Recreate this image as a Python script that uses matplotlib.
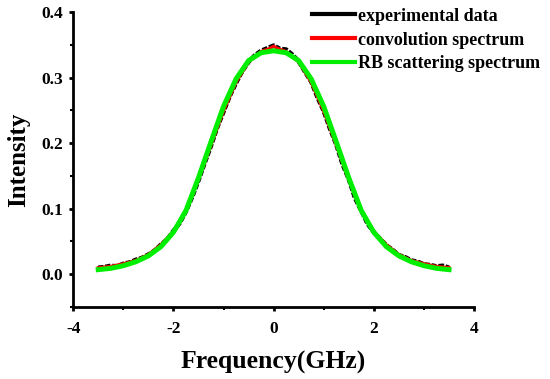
import matplotlib
matplotlib.use("Agg")
import matplotlib.pyplot as plt
from matplotlib.ticker import MultipleLocator

plt.rcParams['font.family'] = ['Liberation Serif', 'DejaVu Serif']
plt.rcParams['font.weight'] = 'bold'
plt.rcParams['axes.unicode_minus'] = False

# experimental data, 0.125 GHz step
exp_freq = [-3.5, -3.375, -3.25, -3.125, -3.0, -2.875, -2.75, -2.625, -2.5, -2.375,
            -2.25, -2.125, -2.0, -1.875, -1.75, -1.625, -1.5, -1.375, -1.25, -1.125,
            -1.0, -0.875, -0.75, -0.625, -0.5, -0.375, -0.25, -0.125, 0.0,
            0.125, 0.25, 0.375, 0.5, 0.625, 0.75, 0.875, 1.0, 1.125, 1.25,
            1.375, 1.5, 1.625, 1.75, 1.875, 2.0, 2.125, 2.25, 2.375, 2.5,
            2.625, 2.75, 2.875, 3.0, 3.125, 3.25, 3.375, 3.5]
exp_int = [0.010, 0.011, 0.013, 0.012, 0.016, 0.018, 0.022, 0.025, 0.030, 0.036,
           0.045, 0.053, 0.066, 0.078, 0.096, 0.118, 0.143, 0.170, 0.196, 0.224,
           0.248, 0.272, 0.292, 0.310, 0.324, 0.334, 0.341, 0.345, 0.349,
           0.344, 0.343, 0.335, 0.325, 0.309, 0.294, 0.270, 0.249, 0.222, 0.198,
           0.168, 0.145, 0.116, 0.097, 0.077, 0.064, 0.054, 0.044, 0.037, 0.029,
           0.026, 0.021, 0.019, 0.015, 0.014, 0.012, 0.013, 0.010]

# convolution spectrum
conv_freq = [-3.5, -3.25, -3.0, -2.75, -2.5, -2.25, -2.0, -1.75, -1.5, -1.25,
             -1.0, -0.75, -0.5, -0.25, -0.1, 0.0, 0.1, 0.25, 0.5, 0.75,
             1.0, 1.25, 1.5, 1.75, 2.0, 2.25, 2.5, 2.75, 3.0, 3.25, 3.5]
conv_int = [0.010, 0.012, 0.016, 0.021, 0.030, 0.045, 0.065, 0.096, 0.144, 0.197,
            0.249, 0.293, 0.324, 0.340, 0.344, 0.348, 0.344, 0.340, 0.324, 0.293,
            0.249, 0.197, 0.144, 0.096, 0.065, 0.045, 0.030, 0.021, 0.016, 0.012, 0.010]

# RB scattering spectrum
rb_freq = [-3.5, -3.25, -3.0, -2.75, -2.5, -2.25, -2.0, -1.75, -1.5, -1.25,
           -1.0, -0.75, -0.5, -0.25, 0.0, 0.25, 0.5, 0.75, 1.0, 1.25,
           1.5, 1.75, 2.0, 2.25, 2.5, 2.75, 3.0, 3.25, 3.5]
rb_int = [0.007, 0.009, 0.013, 0.019, 0.028, 0.042, 0.064, 0.097, 0.147, 0.202,
          0.256, 0.298, 0.326, 0.338, 0.341, 0.338, 0.326, 0.298, 0.256, 0.202,
          0.147, 0.097, 0.064, 0.042, 0.028, 0.019, 0.013, 0.009, 0.007]

fig = plt.figure(figsize=(5.5, 3.79), dpi=100)
ax = fig.add_axes([0.133, 0.19, 0.729, 0.778])

ax.plot(exp_freq, exp_int, color='black', lw=3.2, ls=(0, (1.2, 0.4)),
        label='experimental data')
ax.plot(conv_freq, conv_int, color='red', lw=2.2, label='convolution spectrum')
ax.plot(rb_freq, rb_int, color='#00ee00', lw=3.6, label='RB scattering spectrum')

ax.set_xlim(-4, 4)
ax.set_ylim(-0.05, 0.4)
ax.xaxis.set_major_locator(MultipleLocator(2))
ax.xaxis.set_minor_locator(MultipleLocator(1))
ax.yaxis.set_minor_locator(MultipleLocator(0.05))
ax.set_yticks([0.0, 0.1, 0.2, 0.3, 0.4])
ax.set_yticklabels(['0.0', '0.1', '0.2', '0.3', '0.4'])

for s in ['top', 'right']:
    ax.spines[s].set_visible(False)
for s in ['left', 'bottom']:
    ax.spines[s].set_linewidth(2)

ax.tick_params(which='major', direction='out', length=3, width=2, labelsize=12.5)
ax.tick_params(axis='x', which='major', pad=7)
ax.tick_params(axis='y', which='major', pad=4)
ax.tick_params(which='minor', direction='out', length=2, width=1.5)
for lab in ax.get_xticklabels() + ax.get_yticklabels():
    lab.set_fontweight('bold')

ax.set_xlabel('Frequency(GHz)', fontsize=18.5, fontweight='bold', labelpad=10)
ax.set_ylabel('Intensity', fontsize=18, fontweight='bold', labelpad=8)

leg = ax.legend(loc='upper right', bbox_to_anchor=(1.205, 1.07), frameon=False,
                fontsize=13, handlelength=2.4, handletextpad=0.15,
                labelspacing=0.38)
for h in leg.get_lines():
    h.set_linewidth(3)
    h.set_linestyle('-')

fig.savefig('out.png', dpi=100)
